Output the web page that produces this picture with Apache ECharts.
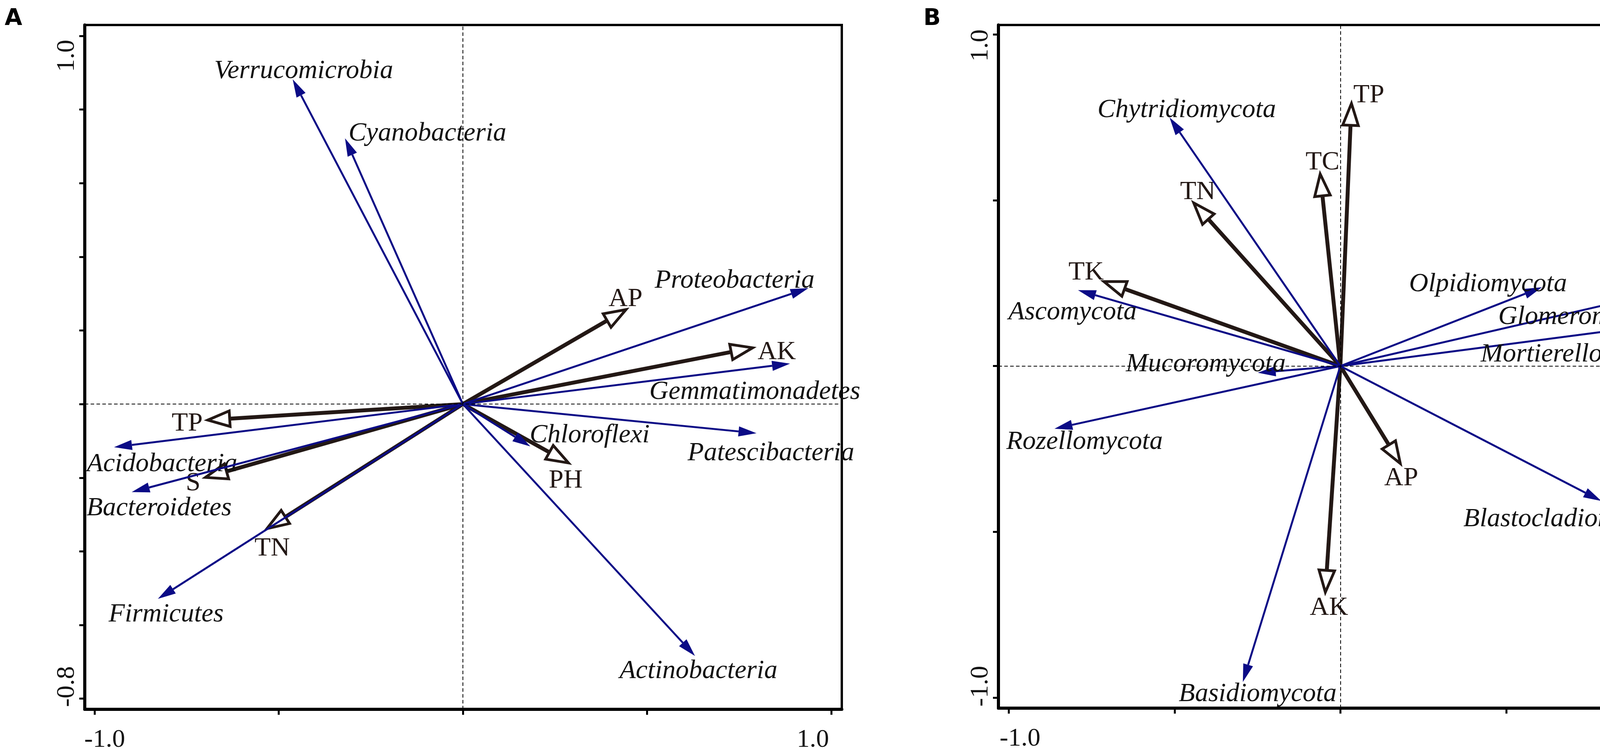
<!DOCTYPE html>
<html>
<head>
<meta charset="utf-8">
<title>RDA biplots</title>
<script src="https://cdn.jsdelivr.net/npm/echarts@6.0.0/dist/echarts.min.js"></script>
<style>
    html, body { margin: 0; padding: 0; background: #fff; }
    #chart { width: 4317px; height: 1934px; }
</style>
</head>
<body>
<div id="chart"></div>
<script>
// panel A - bacteria phyla
var taxaA = ['Verrucomicrobia', 'Cyanobacteria', 'Proteobacteria', 'Gemmatimonadetes', 'Patescibacteria',
    'Chloroflexi', 'Actinobacteria', 'Acidobacteria', 'Bacteroidetes', 'Firmicutes'];
var taxaAx = [-0.462, -0.320, 0.938, 0.888, 0.797, 0.183, 0.630, -0.947, -0.899, -0.828];
var taxaAy = [0.882, 0.722, 0.315, 0.110, -0.079, -0.115, -0.684, -0.117, -0.239, -0.529];
var envA = ['AP', 'AK', 'PH', 'TP', 'S', 'TN'];
var envAx = [0.452, 0.797, 0.296, -0.703, -0.709, -0.541];
var envAy = [0.262, 0.155, -0.165, -0.044, -0.202, -0.344];

// panel B - fungi phyla
var taxaB = ['Chytridiomycota', 'Ascomycota', 'Mucoromycota', 'Rozellomycota', 'Basidiomycota',
    'Blastocladiomycota', 'Olpidiomycota', 'Glomeromycota', 'Mortierellomycota'];
var taxaBx = [-0.515, -0.791, -0.249, -0.862, -0.294, 0.787, 0.608, 0.914, 0.881];
var taxaBy = [0.750, 0.229, -0.020, -0.189, -0.953, -0.407, 0.238, 0.211, 0.115];
var envB = ['TP', 'TC', 'TN', 'TK', 'AP', 'AK'];
var envBx = [0.034, -0.062, -0.450, -0.724, 0.187, -0.046];
var envBy = [0.804, 0.591, 0.501, 0.259, -0.304, -0.694];

// ticks and tick labels
var ticksAx = [-1.0, -0.5, 0, 0.5, 1.0];
var ticksAy = [-0.8, -0.6, -0.4, -0.2, 0, 0.2, 0.4, 0.6, 0.8, 1.0];
var ticksB = [-1.0, -0.5, 0, 0.5, 1.0];
var labelsAx = ['-1.0', '1.0'];
var labelsAy = ['-0.8', '1.0'];
var labelsB = ['-1.0', '1.0'];

// label placement (pixels from arrow tip), same order as the names
var shiftTaxaA = [[28, -21], [211, -12], [-189, -19], [-90, 73], [37, 51], [152, -28], [9, 39], [123, 44], [70, 42], [21, 40]];
var shiftEnvA = [[-10, -22], [52, 13], [-16, 40], [-43, 8], [-22, 12], [22, 46]];
var shiftTaxaB = [[44, -19], [-14, 57], [-133, -22], [77, 34], [38, 31], [-83, 47], [-138, -8], [-154, 54], [-135, 68]];
var shiftEnvB = [[44, -11], [7, -20], [17, -20], [-36, -20], [-3, 29], [10, 30]];

var blueC = '#0b0b86', darkC = '#231815';
var serif = '"Liberation Serif", "Times New Roman", serif';

function pairs(xs, ys) {
    var out = [];
    for (var i = 0; i < xs.length; i++) out.push([xs[i], ys[i]]);
    return out;
}

function arrowRender(names, shifts, isEnv) {
    return function (params, api) {
        var o = api.coord([0, 0]);
        var t = api.coord([api.value(0), api.value(1)]);
        var dx = t[0] - o[0], dy = t[1] - o[1];
        var len = Math.sqrt(dx * dx + dy * dy);
        var ux = dx / len, uy = dy / len, nx = -uy, ny = ux;
        var color = isEnv ? darkC : blueC;
        var hl = isEnv ? 56 : 46, hw = isEnv ? 20 : 13, inset = isEnv ? 10 : 0;
        var tx = t[0] - ux * inset, ty = t[1] - uy * inset;
        var bx = tx - ux * hl, by = ty - uy * hl;
        var head = [[tx, ty], [bx + nx * hw, by + ny * hw], [bx - nx * hw, by - ny * hw]];
        var sh = shifts[params.dataIndex];
        return {
            type: 'group',
            children: [
                {type: 'line', shape: {x1: o[0], y1: o[1], x2: bx, y2: by},
                    style: {stroke: color, lineWidth: isEnv ? 10 : 5}},
                {type: 'polygon', shape: {points: head},
                    style: isEnv ? {fill: '#fff', stroke: color, lineWidth: 7, lineJoin: 'miter'} : {fill: color}},
                {type: 'text', x: t[0] + sh[0], y: t[1] + sh[1],
                    style: {text: names[params.dataIndex], fill: isEnv ? darkC : '#111',
                        font: (isEnv ? '' : 'italic ') + '68px ' + serif,
                        align: 'center', verticalAlign: 'middle'}}
            ]
        };
    };
}

function richPad(l, r) {
    return {fontSize: 66, fontFamily: serif, color: '#111', padding: [0, r, 0, l]};
}

function makeX(idx, min, max, ticks, labels, padLo, padHi) {
    return {
        type: 'value', gridIndex: idx, min: min, max: max,
        splitLine: {show: false},
        axisLine: {show: true, onZero: false, lineStyle: {color: '#000', width: 8}},
        axisTick: {show: true, length: 14, customValues: ticks, lineStyle: {color: '#000', width: 5}},
        axisLabel: {
            show: true, margin: 46, customValues: [-1, 1],
            formatter: function (v) { return v < 0 ? '{lo|' + labels[0] + '}' : '{hi|' + labels[1] + '}'; },
            rich: {lo: richPad(padLo, 0), hi: richPad(0, padHi)}
        }
    };
}

function makeY(idx, min, max, ticks, labels, lowVal, padLo, padHi) {
    return {
        type: 'value', gridIndex: idx, min: min, max: max,
        splitLine: {show: false},
        axisLine: {show: true, onZero: false, lineStyle: {color: '#000', width: 8}},
        axisTick: {show: true, length: 14, customValues: ticks, lineStyle: {color: '#000', width: 5}},
        axisLabel: {
            show: true, rotate: 90, margin: 12, customValues: [lowVal, 1],
            formatter: function (v) { return v < 0 ? '{lo|' + labels[0] + '}' : '{hi|' + labels[1] + '}'; },
            rich: {lo: richPad(padLo, 0), hi: richPad(0, padHi)}
        }
    };
}

var zeroLines = {
    silent: true, symbol: 'none', animation: false,
    label: {show: false},
    lineStyle: {color: '#000', width: 2, type: [9, 6]},
    data: [{xAxis: 0}, {yAxis: 0}]
};

var chart = echarts.init(document.getElementById('chart'), null, {renderer: 'canvas'});

var option = {
    animation: false,
    backgroundColor: '#fff',
    grid: [
        {left: 217, top: 64, width: 1938, height: 1753, show: true, borderColor: '#000', borderWidth: 6},
        {left: 2556, top: 64, width: 1748, height: 1750, show: true, borderColor: '#000', borderWidth: 6}
    ],
    xAxis: [
        makeX(0, -1.0265, 1.0286, ticksAx, labelsAx, 52, 94),
        makeX(1, -1.031, 1.028, ticksB, labelsB, 58, 80)
    ],
    yAxis: [
        makeY(0, -0.829, 1.0297, ticksAy, labelsAy, -0.8, 62, 102),
        makeY(1, -1.032, 1.029, ticksB, labelsB, -1.0, 58, 56)
    ],
    graphic: [
        {type: 'text', left: 12, top: 20, style: {text: 'A', font: 'bold 58px "DejaVu Sans", Arial, sans-serif', fill: '#000'}},
        {type: 'text', left: 2364, top: 20, style: {text: 'B', font: 'bold 58px "DejaVu Sans", Arial, sans-serif', fill: '#000'}}
    ],
    series: [
        {type: 'custom', name: 'envA', xAxisIndex: 0, yAxisIndex: 0, clip: false,
            encode: {x: 0, y: 1}, data: pairs(envAx, envAy),
            renderItem: arrowRender(envA, shiftEnvA, true), markLine: zeroLines},
        {type: 'custom', name: 'taxaA', xAxisIndex: 0, yAxisIndex: 0, clip: false,
            encode: {x: 0, y: 1}, data: pairs(taxaAx, taxaAy),
            renderItem: arrowRender(taxaA, shiftTaxaA, false)},
        {type: 'custom', name: 'envB', xAxisIndex: 1, yAxisIndex: 1, clip: false,
            encode: {x: 0, y: 1}, data: pairs(envBx, envBy),
            renderItem: arrowRender(envB, shiftEnvB, true), markLine: zeroLines},
        {type: 'custom', name: 'taxaB', xAxisIndex: 1, yAxisIndex: 1, clip: false,
            encode: {x: 0, y: 1}, data: pairs(taxaBx, taxaBy),
            renderItem: arrowRender(taxaB, shiftTaxaB, false)}
    ]
};

chart.setOption(option);
</script>
</body>
</html>
